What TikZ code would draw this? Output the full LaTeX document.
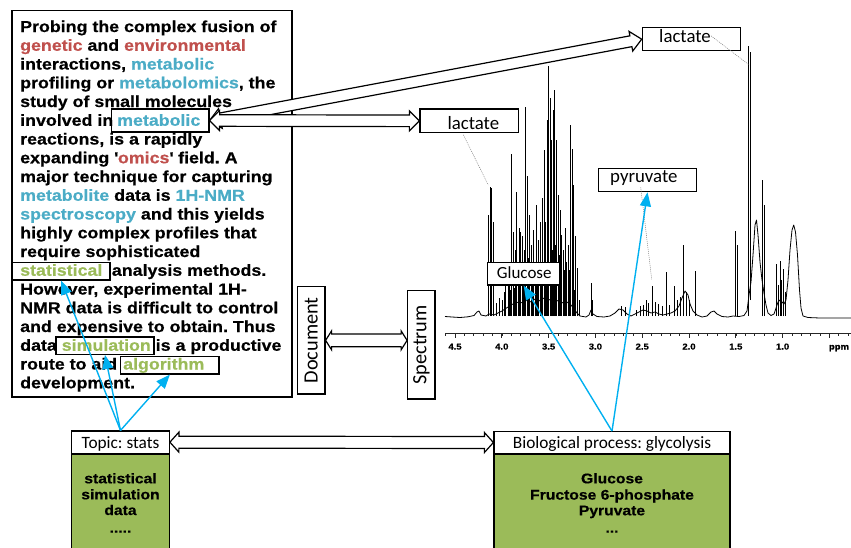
\documentclass[tikz,border=0pt]{standalone}
\usepackage{fontspec}
\usetikzlibrary{calc,arrows.meta}
\newfontfamily\bodyfont[FakeStretch=1.12, BoldFeatures={FakeBold=0.5}]{Liberation Sans}
\newfontfamily\labfont{Carlito}
\definecolor{cred}{HTML}{C0504D}
\definecolor{cblue}{HTML}{4BACC6}
\definecolor{cgreen}{HTML}{9BBB59}
\definecolor{ccyan}{HTML}{00B0F0}
\frenchspacing
\tikzset{
  para/.style={anchor=base west, inner sep=0pt, font=\bodyfont\bfseries\fontsize{15.9pt}{18.75pt}\selectfont},
  gtext/.style={anchor=base, inner sep=0pt, font=\bodyfont\bfseries\fontsize{14pt}{16pt}\selectfont},
  wbox/.style={draw=black, line width=1.2pt, inner sep=0pt},
  lbox/.style={draw=black, line width=1.2pt, fill=white, inner sep=0pt},
  lab/.style={anchor=base west, inner sep=0pt, font=\labfont\fontsize{18.8pt}{20pt}\selectfont},
  vbox/.style={draw=black, line width=1.2pt, fill=white, inner sep=0pt, rotate=90, font=\labfont\fontsize{20.3pt}{22pt}\selectfont},
  hdr/.style={draw=black, line width=1.2pt, fill=white, inner xsep=0pt, inner ysep=0pt, anchor=base, font=\labfont\fontsize{17.3pt}{19pt}\selectfont},
  gbox/.style={draw=black, line width=1.2pt, fill=cgreen, inner sep=0pt, anchor=north},
  harrow/.style={draw=black, line width=1.2pt, fill=white, line join=miter},
  cyanarr/.style={draw=ccyan, line width=1.4pt, -{Triangle[length=14pt,width=11pt]}},
  spec/.style={black, line width=0.8pt},
  specthin/.style={black, line width=0.45pt},
  pointer/.style={gray, line width=0.5pt, dash pattern=on 1pt off 1pt},
  ticklab/.style={anchor=base, inner sep=0pt, font=\bodyfont\bfseries\fontsize{8.5pt}{9pt}\selectfont}
}
\newcommand\hollowarrow[5]{%
  \filldraw[harrow] (#1) -- ($(#1)!#3!(#2)!#4!90:(#2)$) -- ($(#1)!#3!(#2)!#5!90:(#2)$)
   -- ($(#2)!#3!(#1)!#5!-90:(#1)$) -- ($(#2)!#3!(#1)!#4!-90:(#1)$) -- (#2)
   -- ($(#2)!#3!(#1)!#4!90:(#1)$) -- ($(#2)!#3!(#1)!#5!90:(#1)$)
   -- ($(#1)!#3!(#2)!#5!-90:(#2)$) -- ($(#1)!#3!(#2)!#4!-90:(#2)$) -- cycle;}
\begin{document}
\begin{tikzpicture}[x=1pt,y=-1pt]
\useasboundingbox (0,0) rectangle (851,547);

% ---------------- spectrum ----------------
\draw[spec, line join=round] (445,316.5) -- (452,317) -- (460,317.5) -- (468,316.8) -- (474,315.5) -- (477,312) -- (479,311) -- (481,315) -- (486,316) -- (489,314) -- (494,315) -- (498,313) -- (502,311) -- (505,309) -- (508,307) -- (511,305) -- (515,303) -- (519,302) -- (523,303) -- (527,300) -- (531,302) -- (535,299) -- (539,301) -- (543,298) -- (547,301) -- (551,299) -- (555,302) -- (559,300) -- (563,303) -- (567,302) -- (571,305) -- (574,309) -- (577,313) -- (580,316) -- (586,317) -- (589,315) -- (591,310) -- (593,314) -- (597,316.5) -- (604,317) -- (610,316) -- (615,313) -- (619,309) -- (623,310) -- (627,314) -- (631,316) -- (635,314) -- (639,312) -- (643,310) -- (647,311) -- (651,313) -- (655,312) -- (659,314) -- (663,315) -- (667,314) -- (671,313) -- (675,311) -- (679,306) -- (682,298) -- (685,291) -- (688,295) -- (690,304) -- (693,311) -- (697,315) -- (702,317) -- (707,316) -- (711,312) -- (714,311) -- (717,314) -- (722,316.5) -- (728,317) -- (733,316) -- (739,316.5) -- (744,315.5) -- (747,311) -- (749,295) -- (751,282) -- (753,255) -- (755,225) -- (756.5,220) -- (758,235) -- (760,262) -- (762,280) -- (764,293) -- (766,305) -- (768,313) -- (771,315.5) -- (774,314) -- (776,308) -- (778,302) -- (780,300) -- (782,302) -- (784,304) -- (786,300) -- (788,280) -- (790,250) -- (792,230) -- (793.7,225) -- (795.5,232) -- (797.5,255) -- (799.5,290) -- (801,308) -- (803,316) -- (808,317.5) -- (820,318) -- (835,318) -- (851,318);
\foreach \px/\py in {488.5/215, 490/187, 491.7/188, 493.2/222, 496.7/303, 499.5/298, 502/300,
  505/270, 508/262, 510/290, 511.7/154, 513.3/232, 515/250, 516.7/192, 519/228, 520.5/232, 522.7/236, 524/250,
  525.7/107, 527/176, 529.5/215, 531.5/245, 533/230, 535/262, 536.7/205, 538.5/240, 540/222, 542.7/198,
  544.3/150, 545.5/222, 547/120, 548.3/66, 550/98, 551.5/140, 553/110, 554.7/90, 556.7/140, 558.3/195,
  560/210, 561.7/235, 563.5/250, 565/228, 566.7/262, 568.3/245, 570/125, 572.3/149, 573.5/185, 575/236,
  577/268, 579/300, 590.9/283, 592.5/300, 621.7/306, 625/307, 636.7/310, 640/306, 643.3/305, 646/300,
  648.3/303, 652.7/286, 655/302, 658.3/304, 662/306, 666/272, 669/305, 674/286, 677.3/300, 680/297,
  683.3/245, 686.5/292, 689/300, 695/271, 735.7/231, 737/245, 762.7/180, 764.2/205,
  776/264, 778/285, 780/261, 781.7/280, 783.3/269, 785/292}
  \draw[spec] (\px,316) -- (\px,\py);
\foreach \px/\py in {504/292, 509/280, 514/288, 518/262, 523.3/282, 528.2/258, 532.2/285, 537.5/268,
  541.3/270, 546.2/265, 552.3/250, 555.7/245, 559.2/255, 564.3/270, 569/270, 574.3/290}
  \draw[specthin] (\px,316) -- (\px,\py);
\draw[black, line width=1.1pt] (748.6,316) -- (748.6,46) (750.3,300) -- (750.3,52);
% axis
\draw[black!85, line width=0.8pt] (445,333.3) -- (851,333.3);
\foreach \i in {0,...,43} \draw[black!85, line width=0.6pt] ({445.64+\i*9.36},333.3) -- ++(0,3);
\foreach \i in {1,6,...,41} \draw[black!85, line width=0.7pt] ({445.64+\i*9.36},333.3) -- ++(0,4.5);
\foreach \v [count=\k] in {4.5,4.0,3.5,3.0,2.5,2.0,1.5,1.0}
  \node[ticklab, name=tick\k] at ({455+(4.5-\v)*93.6},349.5) {\v};
\node[ticklab, name=ppm] at (839,349.5) {ppm};

\coordinate (pkA) at (749.3,65);
\coordinate (pkB) at (488.3,185);
\coordinate (pkP) at (651.7,279.3);

% ---------------- text block ----------------
\node[draw=black, line width=1.2pt, inner sep=0pt, minimum width=280pt, minimum height=386.5pt] (textbox) at (152,203.75) {};
\node[para] (l1) at (20,32) {Probing the complex fusion of};
\node[para] (l2) at (20,50.75) {\textcolor{cred}{genetic} and \textcolor{cred}{environmental}};
\node[para] (l3) at (20,69.5) {interactions, \textcolor{cblue}{metabolic}};
\node[para] (l4) at (20,88.25) {profiling or \textcolor{cblue}{metabolomics}, the};
\node[para] (l5) at (20,107) {study of small molecules};
\node[para] (l6) at (20,125.75) {involved in};
\node[para] (l6b) at (117,125.75) {\textcolor{cblue}{metabolic}};
\node[para] (l7) at (20,144.5) {reactions, is a rapidly};
\node[para] (l8) at (20,163.25) {expanding \textquotesingle\textcolor{cred}{omics}\textquotesingle{} field. A};
\node[para] (l9) at (20,182) {major technique for capturing};
\node[para] (l10) at (20,200.75) {\textcolor{cblue}{metabolite} data is \textcolor{cblue}{1H-NMR}};
\node[para] (l11) at (20,219.5) {\textcolor{cblue}{spectroscopy} and this yields};
\node[para] (l12) at (20,238.25) {highly complex profiles that};
\node[para] (l13) at (20,257) {require sophisticated};
\node[para] (l14) at (20,275.75) {\textcolor{cgreen}{statistical}};
\node[para] (l14b) at (111.7,275.75) {analysis methods.};
\node[para] (l15) at (20,294.5) {However, experimental 1H-};
\node[para] (l16) at (20,313.25) {NMR data is difficult to control};
\node[para] (l17) at (20,332) {and expensive to obtain. Thus};
\node[para] (l18) at (20,350.75) {data \textcolor{cgreen}{simulation} is a productive};
\node[para] (l19) at (20,369.5) {route to aid};
\node[para] (l19b) at (123,369.5) {\textcolor{cgreen}{algorithm}};
\node[para] (l20) at (20,388.25) {development.};

\node[wbox, minimum width=97.3pt, minimum height=23pt] (metbox) at (160.35,120.5) {};
\node[wbox, minimum width=97.7pt, minimum height=17.3pt] (statbox) at (61.15,271.35) {};
\node[wbox, minimum width=98pt, minimum height=17.3pt] (simbox) at (105,345.65) {};
\node[wbox, minimum width=98.3pt, minimum height=17.3pt] (algbox) at (169.85,365.35) {};

% ---------------- labels on spectrum ----------------
\node[lbox, minimum width=98.4pt, minimum height=23pt] (lacA) at (691.5,39.2) {};
\node[lab] (lacAt) at (659,42.3) {lactate};
\node[lbox, minimum width=98.7pt, minimum height=23.7pt] (lacB) at (469.35,120.85) {};
\node[lab] (lacBt) at (447.3,129) {lactate};
\node[lbox, minimum width=98.4pt, minimum height=23.4pt] (pyr) at (647.5,180) {};
\node[lab] (pyrt) at (610,182.7) {pyruvate};
\node[lbox, minimum width=72.7pt, minimum height=22.3pt] (glu) at (523.65,273.85) {};
\node[lab, font=\labfont\fontsize{17pt}{19pt}\selectfont] (glut) at (496.7,278.3) {Glucose};

\draw[pointer] (lacAt.east) -- (pkA);
\draw[pointer] ($(lacB.south)+(-6,1.5)$) -- (pkB);
\draw[pointer] ($(pyrt.base west)+(30.7,4.6)$) -- (pkP);

% ---------------- Document / Spectrum ----------------
\node[vbox, minimum width=107.3pt, minimum height=27.7pt] (doc) at (311.15,340.35) {Document};
\node[vbox, minimum width=108.3pt, minimum height=27.3pt] (spect) at (421.35,344.85) {Spectrum};
\coordinate (docR) at (doc.south);
\coordinate (specL) at (doc.south -| spect.north);

% ---------------- bottom boxes ----------------
\node[gbox, minimum width=97.6pt, minimum height=97pt] (topicg) at (120.5,453.3) {};
\node[hdr, minimum width=97.6pt, text height=17.3pt, text depth=5pt] (topic) at (120.5,448.3) {Topic: stats};
\node[gtext] (t1) at (120.5,483.3) {statistical};
\node[gtext] (t2) at (120.5,499.3) {simulation};
\node[gtext] (t3) at (120.5,515) {data};
\node[gtext] (t4) at (120.5,532.7) {.....};

\node[gbox, minimum width=236pt, minimum height=97pt] (biog) at (612,453.3) {};
\node[hdr, minimum width=236pt, text height=16.6pt, text depth=5pt] (bio) at (612,448.3) {Biological process: glycolysis};
\node[gtext] (b1) at (612,483.3) {Glucose};
\node[gtext] (b2) at (612,499.6) {Fructose 6-phosphate};
\node[gtext] (b3) at (612,515.3) {Pyruvate};
\node[gtext] (b4) at (612,532.7) {...};

% ---------------- hollow double arrows ----------------
\hollowarrow{metbox.east}{lacA.west}{11pt}{10pt}{5.5pt}
\hollowarrow{metbox.east}{lacB.west}{10pt}{10pt}{5.8pt}
\hollowarrow{docR}{specL}{6pt}{9.5pt}{6.3pt}
\hollowarrow{topic.east}{bio.west}{9pt}{10pt}{6pt}

% ---------------- cyan arrows ----------------
\draw[cyanarr] (topic.north) -- (statbox.south);
\draw[cyanarr] (topic.north) -- (simbox.south);
\draw[cyanarr] (topic.north) -- (algbox.south);
\draw[cyanarr] (bio.north) -- (glu.south);
\draw[cyanarr] (bio.north) -- (pyr.south);
\end{tikzpicture}
\end{document}
